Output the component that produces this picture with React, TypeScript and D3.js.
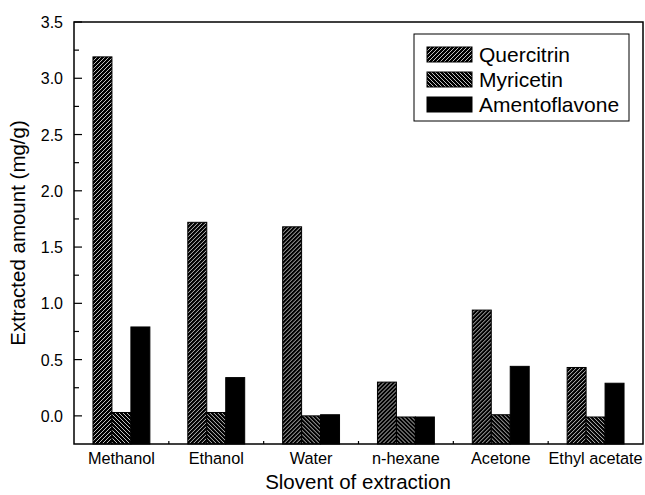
import React from 'react';
import * as d3 from 'd3';

const categories = ['Methanol', 'Ethanol', 'Water', 'n-hexane', 'Acetone', 'Ethyl acetate'];
const seriesNames = ['Quercitrin', 'Myricetin', 'Amentoflavone'];
const quercitrin = [3.19, 1.72, 1.68, 0.3, 0.94, 0.43];
const myricetin = [0.03, 0.03, 0.0, -0.01, 0.01, -0.01];
const amentoflavone = [0.79, 0.34, 0.01, -0.01, 0.44, 0.29];
const yTicks = [0.0, 0.5, 1.0, 1.5, 2.0, 2.5, 3.0, 3.5];

const width = 645;
const height = 495;
const margin = { left: 74, right: 2, top: 22, bottom: 51 };
const fills = ['url(#hatchFwd)', 'url(#hatchBack)', '#000'];
const font = '"Liberation Sans", Arial, sans-serif';

const App = () => {
  const series = [quercitrin, myricetin, amentoflavone];
  const x = d3.scaleBand().domain(categories).range([margin.left, width - margin.right]);
  const bw = x.bandwidth();
  const xs = d3.scaleBand().domain(seriesNames).range([bw * 0.2, bw * 0.8]);
  const y = d3.scaleLinear().domain([-0.25, 3.5]).range([height - margin.bottom, margin.top]);
  const minorTicks = d3.range(-0.25, 3.5, 0.5);
  const plotBottom = y(-0.25);

  return (
    <svg width={width} height={height} style={{ position: 'absolute', left: 0, top: 0, background: '#fff' }}>
      <defs>
        <pattern id="hatchFwd" patternUnits="userSpaceOnUse" width={4} height={4}>
          <rect width={4} height={4} fill="#000" />
          <path d="M-1,1 l2,-2 M0,4 l4,-4 M3,5 l2,-2" stroke="#d8d8d8" strokeWidth={0.9} />
        </pattern>
        <pattern id="hatchBack" patternUnits="userSpaceOnUse" width={4} height={4}>
          <rect width={4} height={4} fill="#000" />
          <path d="M-1,3 l2,2 M0,0 l4,4 M3,-1 l2,2" stroke="#d8d8d8" strokeWidth={0.9} />
        </pattern>
      </defs>

      {/* bars */}
      {categories.map((c, i) => (
        <g key={c} transform={`translate(${x(c)},0)`}>
          {series.map((vals, s) => (
            <rect
              key={s}
              x={xs(seriesNames[s])}
              y={y(vals[i])}
              width={xs.bandwidth()}
              height={plotBottom - y(vals[i])}
              fill={fills[s]}
              stroke="#000"
              strokeWidth={1}
            />
          ))}
        </g>
      ))}

      {/* frame */}
      <rect
        x={margin.left}
        y={margin.top}
        width={width - margin.left - margin.right}
        height={plotBottom - margin.top}
        fill="none"
        stroke="#000"
        strokeWidth={1.5}
      />

      {/* y ticks */}
      {yTicks.map((t) => (
        <g key={t}>
          <line x1={margin.left} x2={margin.left + 8} y1={y(t)} y2={y(t)} stroke="#000" strokeWidth={1.2} />
          <text x={margin.left - 11} y={y(t) + 6} textAnchor="end" fontSize={16} fontFamily={font}>
            {t.toFixed(1)}
          </text>
        </g>
      ))}
      {minorTicks.slice(1).map((t) => (
        <line key={t} x1={margin.left} x2={margin.left + 5} y1={y(t)} y2={y(t)} stroke="#000" strokeWidth={1.2} />
      ))}

      {/* x ticks at category boundaries */}
      {categories.slice(1).map((c) => (
        <line key={c} x1={x(c)} x2={x(c)} y1={plotBottom} y2={plotBottom - 3} stroke="#000" strokeWidth={1.2} />
      ))}
      {categories.map((c) => (
        <text key={c} x={x(c) + bw / 2} y={464} textAnchor="middle" fontSize={16.3} fontFamily={font}>
          {c}
        </text>
      ))}

      {/* axis titles */}
      <text x={358} y={489} textAnchor="middle" fontSize={20.5} fontFamily={font}>
        Slovent of extraction
      </text>
      <text
        transform={`translate(25,${(margin.top + plotBottom) / 2}) rotate(-90)`}
        textAnchor="middle"
        fontSize={20.5}
        fontFamily={font}
      >
        Extracted amount (mg/g)
      </text>

      {/* legend */}
      <rect x={414} y={34} width={215} height={87} fill="#fff" stroke="#000" strokeWidth={1} />
      {seriesNames.map((n, i) => (
        <g key={n} transform={`translate(427,${47 + i * 25})`}>
          <rect width={45} height={15} fill={fills[i]} stroke="#000" strokeWidth={1} />
          <text x={52} y={15} fontSize={21} fontFamily={font}>
            {n}
          </text>
        </g>
      ))}
    </svg>
  );
};

export default App;
